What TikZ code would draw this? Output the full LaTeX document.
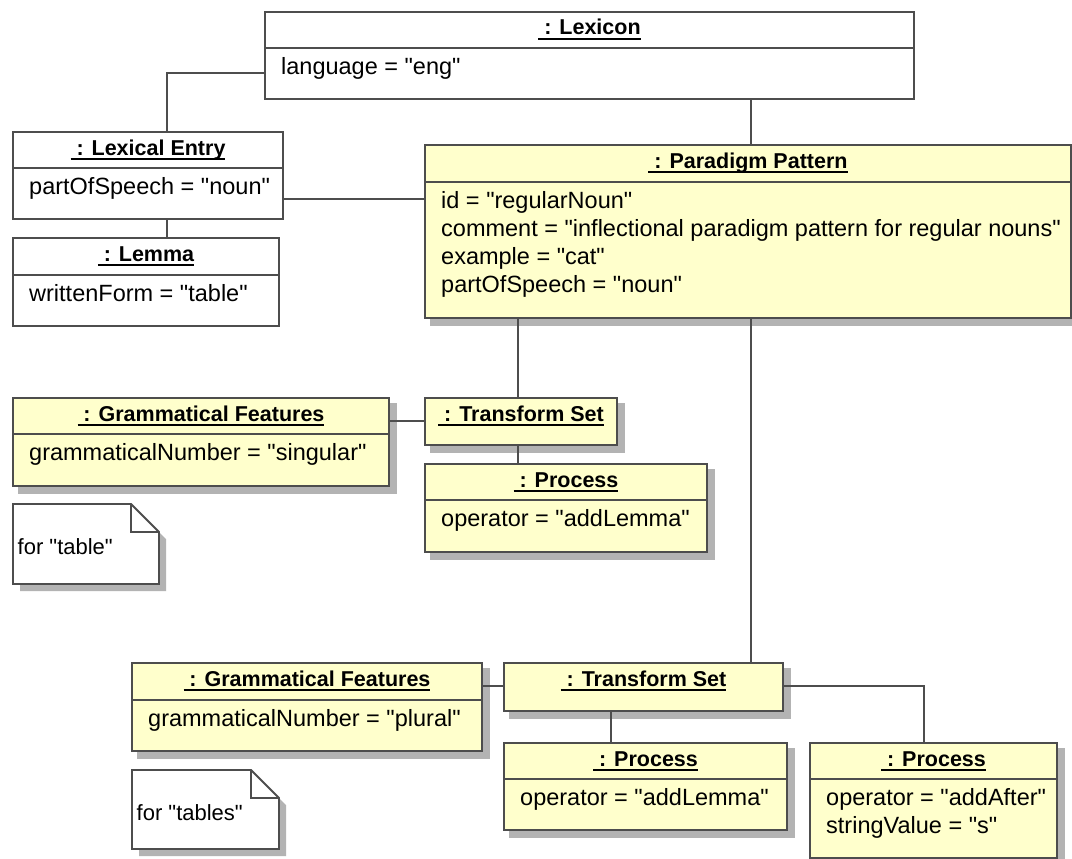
\documentclass[tikz,border=0pt]{standalone}
\usepackage{fontspec}
\setmainfont{Liberation Sans}[Ligatures=TeXOff]
\usetikzlibrary{calc}

\definecolor{objfill}{HTML}{FFFFCC}
\definecolor{edge}{HTML}{4D4D4D}
\definecolor{shade}{HTML}{B3B3B3}

% underlined object title
\newsavebox\ulsave
\newcommand{\ulbox}[1]{\sbox\ulsave{#1}\rlap{\rule[-5.4pt]{\wd\ulsave}{2.4pt}}\usebox\ulsave}

\tikzset{
  objbox/.style={draw=edge, line width=1.8pt, inner sep=0pt, outer sep=0pt},
  divider/.style={draw=edge, line width=1.6pt},
  shadowfill/.style={fill=shade},
  ttl/.style={inner sep=0pt, font=\fontsize{21.5}{26}\selectfont\bfseries},
  attr/.style={inner sep=0pt, font=\fontsize{23.5}{28}\selectfont},
  notetext/.style={inner sep=0pt, font=\fontsize{22}{26}\selectfont},
  conn/.style={draw=edge, line width=1.6pt},
}

% drop shadow of a box: left, top, right, bottom
\newcommand{\objshadow}[4]{\fill[shadowfill] (#1+5,#2+5) rectangle (#3+8,#4+8);}

% object with title and attribute compartment
% name, fill, left, top, right, bottom, divider, title, attributes
\newcommand{\umlobj}[9]{%
  \node[objbox, fill=#2, minimum width={#5-#3}, minimum height={#6-#4}] (#1) at ({(#3+#5)/2},{(#4+#6)/2}) {};
  \draw[divider] (#3,#7) -- (#5,#7);
  \node[ttl, anchor=base] (#1-title) at ({(#3+#5)/2},#4+23) {\ulbox{\ : #8}};
  \foreach \myitem [count=\i from 0] in {#9} {
    \node[attr, anchor=base west] (#1-attr\i) at (#3+16,{#7+26.7+28*\i}) {\myitem};
  }%
}

% object with title only: name, left, top, right, bottom, title
\newcommand{\umlset}[6]{%
  \node[objbox, fill=objfill, minimum width={#4-#2}, minimum height={#5-#3}] (#1) at ({(#2+#4)/2},{(#3+#5)/2}) {};
  \node[ttl, anchor=base] (#1-title) at ({(#2+#4)/2},#3+23) {\ulbox{\ : #6}};
}

% note with folded corner: name, left, top, right, bottom, text
\newcommand{\umlnote}[6]{%
  \fill[shadowfill, shift={(7,7)}] (#2,#3) -- (#4-28,#3) -- (#4,#3+28) -- (#4,#5) -- (#2,#5) -- cycle;
  \draw[objbox, fill=white] (#2,#3) -- (#4-28,#3) -- (#4,#3+28) -- (#4,#5) -- (#2,#5) -- cycle;
  \draw[objbox] (#4-28,#3) -- (#4-28,#3+28) -- (#4,#3+28);
  \node[notetext, anchor=base west] (#1) at (#2+4.5,#3+50.5) {#6};
}

\begin{document}
\begin{tikzpicture}[x=1pt,y=-1pt]
\useasboundingbox (0,0) rectangle (1072,859);
\fill[white] (0,0) rectangle (1072,859);

% shadows of the coloured objects
\objshadow{425}{145}{1071}{318}
\objshadow{13}{398}{389}{486}
\objshadow{425}{398}{617}{445}
\objshadow{425}{464}{707}{552}
\objshadow{132}{663}{482}{751}
\objshadow{504}{663}{783}{711}
\objshadow{504}{743}{787}{830}
\objshadow{810}{743}{1057}{858}

% objects
\umlobj{lex}{white}{265}{12}{914}{99}{48}{Lexicon}{language = "eng"}
\umlobj{le}{white}{13}{132}{283}{219}{168}{Lexical Entry}{partOfSpeech = "noun"}
\umlobj{lemma}{white}{13}{238}{279}{326}{275}{Lemma}{writtenForm = "table"}
\umlobj{pp}{objfill}{425}{145}{1071}{318}{182}{Paradigm Pattern}{id = "regularNoun",comment = "inflectional paradigm pattern for regular nouns",example = "cat",partOfSpeech = "noun"}
\umlobj{gf1}{objfill}{13}{398}{389}{486}{434}{Grammatical Features}{grammaticalNumber = "singular"}
\umlset{ts1}{425}{398}{617}{445}{Transform Set}
\umlobj{p1}{objfill}{425}{464}{707}{552}{500}{Process}{operator = "addLemma"}
\umlnote{n1}{13}{504}{159}{584}{for "table"}
\umlobj{gf2}{objfill}{132}{663}{482}{751}{700}{Grammatical Features}{grammaticalNumber = "plural"}
\umlset{ts2}{504}{663}{783}{711}{Transform Set}
\umlobj{p2}{objfill}{504}{743}{787}{830}{779}{Process}{operator = "addLemma"}
\umlobj{p3}{objfill}{810}{743}{1057}{858}{779}{Process}{operator = "addAfter",stringValue = "s"}
\umlnote{n2}{132}{770}{279}{849}{for "tables"}

% links
\coordinate (c1) at ($(lex.north west)+(0,61)$);
\coordinate (c1b) at ($(le.north west)+(154,0)$);
\draw[conn] (c1) -| (c1b);
\coordinate (c2) at ($(le.south west)+(154,0)$);
\draw[conn] (c2) -- (c2 |- lemma.north);
\coordinate (c3) at ($(le.north east)+(0,67)$);
\draw[conn] (c3) -- (c3 -| pp.west);
\coordinate (c4) at ($(pp.north west)+(326,0)$);
\draw[conn] (c4) -- (c4 |- lex.south);
\coordinate (c5) at ($(ts1.north west)+(93,0)$);
\draw[conn] (c5) -- (c5 |- pp.south);
\coordinate (c6) at ($(ts1.north west)+(0,23)$);
\draw[conn] (c6) -- (c6 -| gf1.east);
\draw[conn] (c5 |- ts1.south) -- (c5 |- p1.north);
\draw[conn] (c4 |- pp.south) -- (c4 |- ts2.north);
\coordinate (c9) at ($(ts2.north west)+(0,23)$);
\draw[conn] (c9) -- (c9 -| gf2.east);
\coordinate (c10) at ($(p2.north west)+(107,0)$);
\draw[conn] (c10) -- (c10 |- ts2.south);
\coordinate (c11) at ($(p3.north west)+(114,0)$);
\draw[conn] (c9 -| ts2.east) -| (c11);
\end{tikzpicture}
\end{document}
